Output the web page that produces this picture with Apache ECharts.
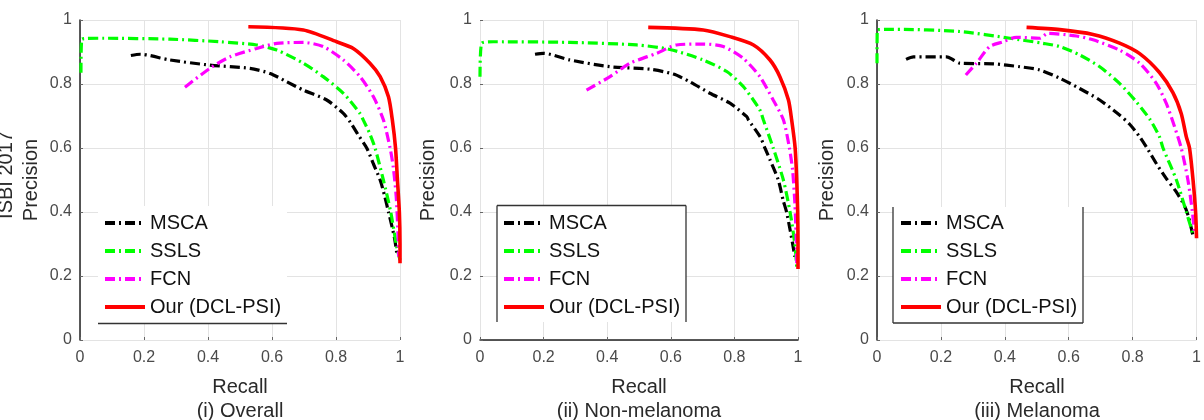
<!DOCTYPE html>
<html><head><meta charset="utf-8">
<script src="https://cdn.jsdelivr.net/npm/echarts@6/dist/echarts.min.js"></script>
<style>html,body{margin:0;padding:0;background:#fff}#c{width:1204px;height:420px}</style>
</head><body><div id="c"></div>
<script>
// ---------- data (recall, precision) ----------
const seriesNames = ['MSCA', 'SSLS', 'FCN', 'Our (DCL-PSI)'];
const panelCaptions = ['(i) Overall', '(ii) Non-melanoma', '(iii) Melanoma'];
const xAxisName = 'Recall';
const yAxisName = 'Precision';
const rowLabel = 'ISBI 2017';

// (i) Overall
const overallMSCA = [[0.159,0.889],[0.188,0.893],[0.281,0.875],[0.406,0.859],[0.531,0.849],[0.594,0.833],[0.646,0.807],[0.698,0.781],[0.771,0.750],[0.823,0.708],[0.845,0.680],[0.870,0.640],[0.896,0.600],[0.917,0.550],[0.938,0.500],[0.952,0.450],[0.964,0.400],[0.976,0.350],[0.984,0.312],[0.990,0.270]];
const overallSSLS = [[0.003,0.835],[0.006,0.940],[0.073,0.943],[0.281,0.940],[0.438,0.932],[0.552,0.922],[0.615,0.906],[0.698,0.865],[0.760,0.823],[0.823,0.771],[0.875,0.708],[0.885,0.688],[0.905,0.646],[0.922,0.600],[0.948,0.500],[0.971,0.400],[0.990,0.290],[1.000,0.250]];
const overallFCN = [[0.328,0.790],[0.406,0.849],[0.469,0.885],[0.552,0.911],[0.615,0.927],[0.698,0.930],[0.760,0.917],[0.823,0.875],[0.875,0.823],[0.917,0.760],[0.948,0.688],[0.969,0.600],[0.979,0.540],[0.988,0.450],[0.993,0.350],[0.996,0.260]];
const overallOurs = [[0.526,0.979],[0.698,0.969],[0.802,0.932],[0.854,0.911],[0.906,0.865],[0.938,0.823],[0.964,0.760],[0.976,0.688],[0.986,0.600],[0.992,0.500],[0.998,0.400],[1.000,0.300],[1.000,0.240]];

// (ii) Non-melanoma
const nonMelMSCA = [[0.173,0.893],[0.199,0.896],[0.283,0.875],[0.409,0.854],[0.535,0.846],[0.608,0.831],[0.660,0.807],[0.723,0.771],[0.786,0.740],[0.839,0.698],[0.844,0.688],[0.881,0.635],[0.896,0.600],[0.912,0.563],[0.938,0.500],[0.953,0.438],[0.964,0.400],[0.976,0.340],[0.985,0.290],[0.990,0.260]];
const nonMelSSLS = [[0.000,0.823],[0.005,0.927],[0.042,0.932],[0.283,0.930],[0.493,0.922],[0.597,0.908],[0.702,0.875],[0.776,0.839],[0.828,0.792],[0.880,0.719],[0.891,0.688],[0.922,0.600],[0.954,0.500],[0.975,0.400],[0.990,0.300],[0.996,0.229]];
const nonMelFCN = [[0.335,0.781],[0.409,0.823],[0.472,0.865],[0.556,0.896],[0.618,0.922],[0.702,0.925],[0.765,0.917],[0.828,0.880],[0.880,0.823],[0.922,0.750],[0.954,0.688],[0.973,0.600],[0.983,0.531],[0.990,0.430],[0.994,0.330],[0.996,0.240]];
const nonMelOurs = [[0.529,0.977],[0.702,0.969],[0.786,0.948],[0.860,0.922],[0.912,0.875],[0.943,0.823],[0.970,0.750],[0.980,0.688],[0.991,0.600],[0.996,0.500],[0.999,0.400],[1.000,0.300],[1.000,0.222]];

// (iii) Melanoma
const melMSCA = [[0.091,0.877],[0.114,0.885],[0.218,0.885],[0.239,0.875],[0.259,0.865],[0.364,0.863],[0.447,0.854],[0.509,0.844],[0.572,0.818],[0.634,0.786],[0.697,0.750],[0.759,0.703],[0.790,0.675],[0.822,0.635],[0.848,0.595],[0.875,0.550],[0.905,0.505],[0.935,0.465],[0.962,0.420],[0.975,0.385],[0.990,0.320]];
const melSSLS = [[0.000,0.865],[0.001,0.969],[0.051,0.971],[0.259,0.964],[0.416,0.943],[0.520,0.927],[0.572,0.917],[0.634,0.891],[0.697,0.854],[0.759,0.802],[0.811,0.745],[0.855,0.688],[0.884,0.635],[0.895,0.600],[0.937,0.500],[0.968,0.400],[0.988,0.333]];
const melFCN = [[0.278,0.828],[0.311,0.865],[0.353,0.917],[0.395,0.932],[0.436,0.946],[0.509,0.943],[0.535,0.958],[0.624,0.950],[0.676,0.938],[0.759,0.906],[0.822,0.865],[0.874,0.802],[0.905,0.740],[0.931,0.667],[0.952,0.600],[0.973,0.500],[0.987,0.400],[0.994,0.330]];
const melOurs = [[0.468,0.977],[0.572,0.970],[0.676,0.955],[0.759,0.928],[0.822,0.895],[0.884,0.836],[0.926,0.773],[0.952,0.708],[0.968,0.635],[0.978,0.600],[0.989,0.500],[0.997,0.400],[1.000,0.318]];

const panelData = [
  [overallMSCA, overallSSLS, overallFCN, overallOurs],
  [nonMelMSCA, nonMelSSLS, nonMelFCN, nonMelOurs],
  [melMSCA, melSSLS, melFCN, melOurs]
];

// ---------- styling / layout ----------
const FONT = '"Liberation Sans", Arial, sans-serif';
const seriesColors = ['#000000', '#00ff00', '#ff00ff', '#ff0000'];
const seriesDash = [[10, 4, 2, 4], [10, 4, 2, 4], [10, 4, 2, 4], 'solid'];
const seriesWidth = [3.2, 3.2, 3.2, 3.6];

const gridLeft = [80, 480, 877];
const gridWidth = [320, 318, 320];
const gridTop = 20, gridHeight = 320;
const showYLine = [true, false, true];
const showXLine = [false, true, false];
const legendLeft = [103, 502, 899];
// legend boxes: [left, top, right, bottom], and which edges are visible
const legendBox = [[98, 206, 287, 323.5], [497, 205.5, 686, 322], [893, 207, 1083, 323]];
const legendEdges = [['b'], ['t', 'l', 'r'], ['l', 'r', 'b']];
const yNameX = [31, 428, 827];

const grids = [], xAxes = [], yAxes = [], series = [], legends = [], graphics = [];

for (let p = 0; p < 3; p++) {
  grids.push({ left: gridLeft[p], top: gridTop, width: gridWidth[p], height: gridHeight });
  xAxes.push({
    type: 'value', gridIndex: p, min: 0, max: 1, interval: 0.2,
    axisLine: { show: showXLine[p], onZero: false, lineStyle: { color: '#222', width: 1.5 } },
    axisTick: { show: true, inside: true, length: 3, lineStyle: { color: '#666' } },
    axisLabel: { color: '#4a4a4a', fontSize: 16, fontFamily: FONT, margin: 10 },
    splitLine: { show: true, lineStyle: { color: '#e3e3e3', width: 1 } }
  });
  yAxes.push({
    type: 'value', gridIndex: p, min: 0, max: 1, interval: 0.2,
    axisLine: { show: showYLine[p], onZero: false, lineStyle: { color: '#222', width: 1.5 } },
    axisTick: { show: true, inside: true, length: 3, lineStyle: { color: '#666' } },
    axisLabel: { color: '#4a4a4a', fontSize: 16, fontFamily: FONT, margin: 8 },
    splitLine: { show: true, lineStyle: { color: '#e3e3e3', width: 1 } }
  });
  for (let s = 0; s < 4; s++) {
    series.push({
      name: seriesNames[s], type: 'line', xAxisIndex: p, yAxisIndex: p,
      data: panelData[p][s], symbol: 'none', showSymbol: false, smooth: 0.25,
      animation: false, z: 2 + s,
      lineStyle: { color: seriesColors[s], width: seriesWidth[s], type: seriesDash[s] },
      itemStyle: { color: seriesColors[s] }
    });
  }
  legends.push({
    orient: 'vertical', left: legendLeft[p], top: 213, padding: 0,
    itemWidth: 40, itemHeight: 14, itemGap: 8, z: 20,
    data: seriesNames, selectedMode: false,
    itemStyle: { color: 'rgba(0,0,0,0)', borderColor: 'rgba(0,0,0,0)', borderWidth: 0 },
    lineStyle: { width: 4 },
    textStyle: { fontSize: 20, color: '#111', fontFamily: FONT, lineHeight: 20 }
  });
  const [l, t, r, b] = legendBox[p];
  graphics.push({ type: 'rect', z: 10, shape: { x: l, y: t, width: r - l, height: b - t }, style: { fill: '#fff', stroke: null } });
  const edgeShapes = { t: [l, t, r, t], b: [l, b, r, b], l: [l, t, l, b], r: [r, t, r, b] };
  legendEdges[p].forEach(e => {
    const [x1, y1, x2, y2] = edgeShapes[e];
    graphics.push({ type: 'line', z: 11, shape: { x1, y1, x2, y2 }, style: { stroke: '#333', lineWidth: 1.3 } });
  });
  const cx = gridLeft[p] + gridWidth[p] / 2;
  graphics.push({ type: 'text', z: 11, x: cx, y: 387, style: { text: xAxisName, fontSize: 20, fill: '#2a2a2a', fontFamily: FONT, align: 'center', verticalAlign: 'middle' } });
  graphics.push({ type: 'text', z: 11, x: cx, y: 411, style: { text: panelCaptions[p], fontSize: 20, fill: '#2a2a2a', fontFamily: FONT, align: 'center', verticalAlign: 'middle' } });
  graphics.push({ type: 'text', z: 11, x: yNameX[p], y: 180, rotation: Math.PI / 2, style: { text: yAxisName, fontSize: 20, fill: '#2a2a2a', fontFamily: FONT, align: 'center', verticalAlign: 'middle' } });
}
graphics.push({ type: 'text', z: 11, x: 6, y: 175, rotation: Math.PI / 2, style: { text: rowLabel, fontSize: 20, fill: '#2a2a2a', fontFamily: FONT, align: 'center', verticalAlign: 'middle' } });

const chart = echarts.init(document.getElementById('c'), null, { renderer: 'canvas' });
chart.setOption({
  backgroundColor: '#fff',
  animation: false,
  grid: grids, xAxis: xAxes, yAxis: yAxes,
  legend: legends, series: series, graphic: graphics
});
</script>
</body></html>
